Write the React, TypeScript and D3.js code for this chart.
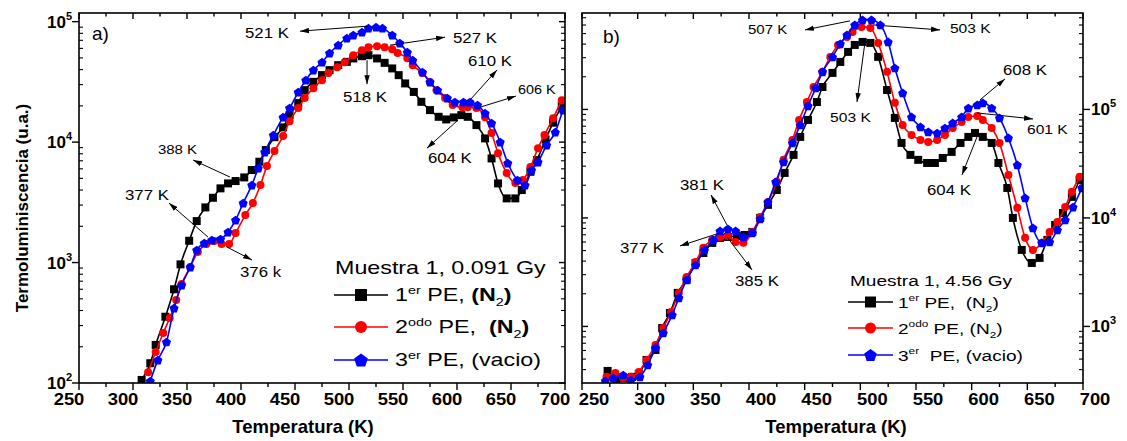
import React from 'react';
import * as d3 from 'd3';

const FONT = "'Liberation Sans', Arial, Helvetica, sans-serif";

// ---------- Panel a) : Muestra 1, 0.091 Gy ----------
const aT1 = [308,316,321,330,338,344,352,359,367,374,381,388,395,403,410,417,423,431,439,445,453,459,467,475,482,490,498,504,512,518,526,533,540,546,552,560,567,575,583,590,597,604,610,618,626,632,638,646,654,660,668,674,682,689,697];
const aV1 = [106,146,207,355,600,966,1517,2210,2870,3450,4130,4540,4750,5090,5860,6870,8590,10990,13250,16750,21080,27000,31650,35970,39600,43550,46400,49500,51700,52700,49500,45500,40900,35970,30700,26100,21600,18440,16220,15420,16030,16750,16220,13840,10730,7320,4540,3410,3410,4000,5670,7090,10500,14500,20000];

const aT2 = [314,321,328,334,340,345,353,360,368,375,382,389,395,404,411,418,424,431,439,445,453,459,467,475,481,489,496,504,512,518,526,533,540,545,554,559,568,575,581,589,596,605,610,618,626,632,638,646,654,661,668,675,681,689,697];
const aV2 = [123,181,260,346,488,663,918,1222,1425,1508,1425,1425,1757,2480,3119,4397,6320,8420,11220,14930,19150,23190,28060,32700,37400,41900,46100,52700,58000,61400,62600,61400,59100,54800,49800,43500,37400,31500,27000,23200,20300,19500,19500,19150,16120,11880,8100,5530,4570,4840,6200,8910,11430,15800,22300];

const aT3 = [316,323,331,338,345,353,359,366,373,381,388,395,402,410,416,422,430,439,445,453,460,467,475,482,490,498,504,512,518,525,531,540,547,554,559,568,575,582,591,598,606,612,619,626,632,640,647,656,663,669,675,683,691,698];
const aV3 = [104,155,219,419,650,918,1270,1452,1537,1567,1791,2253,3119,4397,6085,8260,11430,16120,19150,26000,32700,39600,46100,54800,63800,72900,77300,81800,88300,90000,88300,77300,66400,55800,47900,38100,31500,27000,23200,21500,21500,21500,20300,17400,14380,10000,6700,4840,4400,5860,6820,9440,12100,18440];

// ---------- Panel b) : Muestra 1, 4.56 Gy ----------
const bT1 = [273,281,288,295,301,308,316,322,329,336,344,352,359,367,374,381,389,396,403,410,417,425,432,440,446,453,461,466,475,482,489,495,502,509,516,524,531,537,545,552,560,567,574,582,590,597,603,610,618,624,632,637,645,654,661,668,675,682,690,697];
const bV1 = [389,321,335,343,365,491,607,968,1330,2038,2686,3846,4750,5890,6550,6680,6820,6960,7430,10000,13200,18100,26000,38100,55800,80000,117000,161000,217000,274000,339000,393000,419000,410000,305000,151000,83500,49100,38100,34300,32100,32100,35700,40600,49100,55800,60700,55800,49100,32100,18900,10000,5070,3846,4280,6270,8610,11110,15630,22400];

const bT2 = [272,280,287,294,301,308,316,323,330,337,344,352,359,367,374,381,388,395,403,410,417,425,431,439,445,452,458,466,473,480,488,493,501,509,516,524,531,538,546,554,561,569,576,583,591,597,605,610,618,625,633,641,648,655,663,670,677,684,690,697];
const bV2 = [343,372,335,343,381,491,675,968,1360,2038,2860,3930,5300,6270,6680,6820,6010,5890,7430,10200,14000,21500,34300,52400,80000,117000,161000,222000,305000,393000,466000,518000,576000,564000,410000,222000,115000,72000,58200,52400,50100,52400,58200,67500,76700,85300,87100,80000,67500,49100,24900,12400,6550,5070,5890,7430,9180,12600,17400,23900];

const bT3 = [271,278,287,294,302,309,316,323,331,337,344,352,360,368,374,381,388,395,403,410,417,424,431,439,446,453,460,466,475,482,488,495,502,510,518,525,531,538,546,554,561,569,576,583,591,597,605,610,618,625,633,641,648,655,663,670,677,684,691,699];
const bV3 = [315,335,357,321,343,442,634,871,1276,1833,2686,3690,5070,6270,7590,7920,7590,6680,7280,9790,14000,21500,32800,49100,72000,108000,158000,222000,305000,402000,486000,601000,668000,668000,601000,419000,241000,142000,85300,69000,62100,60700,67500,75100,85300,103000,110000,115000,103000,83500,54600,30800,15300,8090,5890,6010,7740,9590,12600,18900];

// ---------- axes ----------
const xTickValues = [250, 300, 350, 400, 450, 500, 550, 600, 650, 700];
const xMinorValues = [275, 325, 375, 425, 475, 525, 575, 625, 675];
const xTitle = 'Temperatura (K)';
const yTitle = 'Termoluminiscencia (u.a.)';

// ---------- annotations (T in K, e = log10 of intensity) ----------
type Ann = { label: string; tx: number; te: number; fs: number; x1: number; e1: number; x2: number; e2: number };
const aAnn: Ann[] = [
  { label: '521 K', tx: 403.7, te: 4.863, fs: 14, x1: 517.6, e1: 4.963, x2: 454.6, e2: 4.921 },
  { label: '527 K', tx: 596.3, te: 4.822, fs: 14, x1: 538, e1: 4.805, x2: 588.9, e2: 4.871 },
  { label: '518 K', tx: 494.4, te: 4.332, fs: 14, x1: 516.7, e1: 4.68, x2: 516.7, e2: 4.481 },
  { label: '610 K', tx: 610.2, te: 4.631, fs: 14, x1: 612, e1: 4.349, x2: 637, e2: 4.598 },
  { label: '606 K', tx: 656.5, te: 4.398, fs: 12, x1: 618.5, e1: 4.282, x2: 654.6, e2: 4.382 },
  { label: '604 K', tx: 573.1, te: 3.826, fs: 14, x1: 600.9, e1: 4.183, x2: 572.2, e2: 3.95 },
  { label: '388 K', tx: 323.1, te: 3.9, fs: 12.5, x1: 389.8, e1: 3.71, x2: 355.6, e2: 3.851 },
  { label: '377 K', tx: 292.6, te: 3.519, fs: 14, x1: 369.4, e1: 3.212, x2: 333.3, e2: 3.494 },
  { label: '376 k', tx: 399.1, te: 2.88, fs: 14, x1: 387, e1: 3.129, x2: 410.2, e2: 3.021 },
];
const bAnn: Ann[] = [
  { label: '507 K', tx: 399.1, te: 5.696, fs: 12.5, x1: 490.7, e1: 5.816, x2: 450.3, e2: 5.733 },
  { label: '503 K', tx: 580.5, te: 5.705, fs: 13, x1: 511.4, e1: 5.779, x2: 571.6, e2: 5.733 },
  { label: '503 K', tx: 472.8, te: 4.885, fs: 13, x1: 504.2, e1: 5.622, x2: 497, e2: 5.069 },
  { label: '608 K', tx: 628.1, te: 5.318, fs: 14, x1: 607.5, e1: 5.088, x2: 629.9, e2: 5.281 },
  { label: '601 K', tx: 649.7, te: 4.774, fs: 13, x1: 604.8, e1: 4.968, x2: 655.1, e2: 4.912 },
  { label: '604 K', tx: 559.9, te: 4.212, fs: 14, x1: 604.8, e1: 4.747, x2: 591.3, e2: 4.396 },
  { label: '381 K', tx: 338, te: 4.258, fs: 14, x1: 380.2, e1: 3.935, x2: 365.9, e2: 4.212 },
  { label: '377 K', tx: 284.1, te: 3.677, fs: 14, x1: 374, e1: 3.862, x2: 338, e2: 3.742 },
  { label: '385 K', tx: 387.4, te: 3.373, fs: 14, x1: 380.2, e1: 3.825, x2: 402.7, e2: 3.521 },
];

type Seg = { t: string; sup?: boolean; sub?: boolean; bold?: boolean };
const aLegendTitle = 'Muestra 1, 0.091 Gy';
const bLegendTitle = 'Muestra 1, 4.56 Gy';
const aLegend: Seg[][] = [
  [{ t: '1' }, { t: 'er', sup: true }, { t: ' PE, ' }, { t: '(N', bold: true }, { t: '2', sub: true }, { t: ')', bold: true }],
  [{ t: '2' }, { t: 'odo', sup: true }, { t: ' PE,  ' }, { t: '(N', bold: true }, { t: '2', sub: true }, { t: ')', bold: true }],
  [{ t: '3' }, { t: 'er', sup: true }, { t: ' PE, (vacio)' }],
];
const bLegend: Seg[][] = [
  [{ t: '1' }, { t: 'er', sup: true }, { t: ' PE,  (N' }, { t: '2', sub: true }, { t: ')' }],
  [{ t: '2' }, { t: 'odo', sup: true }, { t: ' PE, (N' }, { t: '2', sub: true }, { t: ')' }],
  [{ t: '3' }, { t: 'er', sup: true }, { t: '  PE, (vacio)' }],
];

const COLORS = ['#000000', '#ff0000', '#0000ff'];
const MARKERS = ['square', 'circle', 'pentagon'];

function markerPath(kind: string, s: number): string {
  if (kind === 'square') {
    const h = s / 2;
    return `M${-h},${-h}H${h}V${h}H${-h}Z`;
  }
  if (kind === 'circle') {
    const r = s / 2;
    return `M${r},0A${r},${r} 0 1,1 ${-r},0A${r},${r} 0 1,1 ${r},0Z`;
  }
  const r = s * 0.6;
  const pts = d3.range(5).map((k) => {
    const a = -Math.PI / 2 + (k * 2 * Math.PI) / 5;
    return [r * Math.cos(a), r * Math.sin(a) + r * 0.1];
  });
  return 'M' + pts.map((p) => p.join(',')).join('L') + 'Z';
}

function RichText({ x, y, segs, fs, sx }: { x: number; y: number; segs: Seg[]; fs: number; sx: number }) {
  let shift = 0;
  return (
    <text transform={`translate(${x},${y}) scale(${sx},1)`} fontSize={fs} fontFamily={FONT} style={{ whiteSpace: 'pre' }}>
      {segs.map((s, i) => {
        let target = 0;
        if (s.sup) target = -fs * 0.42;
        if (s.sub) target = fs * 0.28;
        const dy = target - shift;
        shift = target;
        return (
          <tspan key={i} dy={dy} fontSize={s.sup || s.sub ? fs * 0.62 : fs} fontWeight={s.bold ? 'bold' : 'normal'}>
            {s.t}
          </tspan>
        );
      })}
    </text>
  );
}

type PanelCfg = {
  id: string;
  left: number; right: number; top: number; bottom: number;
  yDomain: [number, number];
  labelSide: 'left' | 'right';
  xLabelDx: number;
  xTitleX: number;
  series: { T: number[]; V: number[] }[];
  ann: Ann[];
  tag: string; tagT: number; tagE: number;
  legendTitle: string; legend: Seg[][];
  leg: { tx: number; ty: number; tfs: number; rows: number[]; lx1: number; lx2: number; textX: number; fs: number; ms: number; sx: number };
};

function Panel({ c }: { c: PanelCfg }) {
  const x = d3.scaleLinear().domain([250, 700]).range([c.left, c.right]);
  const y = d3.scaleLog().domain(c.yDomain).range([c.bottom, c.top]);
  const majors: number[] = [];
  const minors: number[] = [];
  for (let d = 2; d <= 6; d++) {
    const b = Math.pow(10, d);
    if (b >= c.yDomain[0] * 0.999 && b <= c.yDomain[1]) majors.push(b);
    for (let k = 2; k <= 9; k++) {
      const v = k * b;
      if (v > c.yDomain[0] && v < c.yDomain[1]) minors.push(v);
    }
  }
  const line = d3
    .line<[number, number]>()
    .x((d) => x(d[0]))
    .y((d) => y(d[1]))
    .curve(d3.curveMonotoneX);
  const clipId = 'clip-' + c.id;
  const sw = 1.4;
  const annSx = 1.2;
  return (
    <g>
      <defs>
        <clipPath id={clipId}>
          <rect x={c.left} y={c.top} width={c.right - c.left} height={c.bottom - c.top} />
        </clipPath>
      </defs>
      {/* x ticks */}
      {xTickValues.map((t) => (
        <g key={'xt' + t}>
          <line x1={x(t)} x2={x(t)} y1={c.bottom} y2={c.bottom + 7} stroke="#000" strokeWidth={sw} />
          <line x1={x(t)} x2={x(t)} y1={c.top} y2={c.top + 6} stroke="#000" strokeWidth={sw} />
          <text
            transform={`translate(${x(t) + c.xLabelDx},405) scale(1.15,1)`}
            textAnchor="middle"
            fontSize={16}
            fontWeight="bold"
            fontFamily={FONT}
          >
            {t}
          </text>
        </g>
      ))}
      {xMinorValues.map((t) => (
        <g key={'xm' + t}>
          <line x1={x(t)} x2={x(t)} y1={c.bottom} y2={c.bottom + 4} stroke="#000" strokeWidth={sw} />
          <line x1={x(t)} x2={x(t)} y1={c.top} y2={c.top + 3.5} stroke="#000" strokeWidth={sw} />
        </g>
      ))}
      {/* y ticks */}
      {majors.map((v) => {
        const yy = y(v);
        const e = Math.round(Math.log10(v));
        const outer = c.labelSide === 'left' ? c.left : c.right;
        const inner = c.labelSide === 'left' ? c.right : c.left;
        const dir = c.labelSide === 'left' ? -1 : 1;
        return (
          <g key={'ym' + v}>
            <line x1={outer} x2={outer + dir * 7} y1={yy} y2={yy} stroke="#000" strokeWidth={sw} />
            <line x1={inner} x2={inner + dir * 6} y1={yy} y2={yy} stroke="#000" strokeWidth={sw} />
            <text
              x={c.labelSide === 'left' ? c.left - 7 : c.right + 8}
              y={yy + 6}
              textAnchor={c.labelSide === 'left' ? 'end' : 'start'}
              fontSize={17}
              fontWeight="bold"
              fontFamily={FONT}
            >
              <tspan>10</tspan>
              <tspan dy={-8} fontSize={11}>{e}</tspan>
            </text>
          </g>
        );
      })}
      {minors.map((v) => (
        <g key={'yn' + v}>
          <line x1={c.left} x2={c.left + 4} y1={y(v)} y2={y(v)} stroke="#000" strokeWidth={1.1} />
          <line x1={c.right} x2={c.right - 4} y1={y(v)} y2={y(v)} stroke="#000" strokeWidth={1.1} />
        </g>
      ))}
      {/* data */}
      <g clipPath={`url(#${clipId})`}>
        {c.series.map((s, i) => {
          const pts: [number, number][] = s.T.map((t, j) => [t, s.V[j]]);
          return (
            <g key={'s' + i}>
              <path d={line(pts) || ''} fill="none" stroke={COLORS[i]} strokeWidth={1.6} />
              {pts.map((p, j) => (
                <path key={j} d={markerPath(MARKERS[i], 8)} transform={`translate(${x(p[0])},${y(p[1])})`} fill={COLORS[i]} />
              ))}
            </g>
          );
        })}
      </g>
      {/* frame */}
      <rect x={c.left} y={c.top} width={c.right - c.left} height={c.bottom - c.top} fill="none" stroke="#000" strokeWidth={1.6} />
      {/* panel tag */}
      <text x={x(c.tagT)} y={y(Math.pow(10, c.tagE))} fontSize={19} fontFamily={FONT}>
        {c.tag}
      </text>
      {/* annotations */}
      {c.ann.map((a, i) => (
        <g key={'a' + i}>
          <line
            x1={x(a.x1)}
            y1={y(Math.pow(10, a.e1))}
            x2={x(a.x2)}
            y2={y(Math.pow(10, a.e2))}
            stroke="#000"
            strokeWidth={1}
            markerEnd="url(#arrowhead)"
          />
          <text
            transform={`translate(${x(a.tx)},${y(Math.pow(10, a.te))}) scale(${annSx},1)`}
            fontSize={a.fs}
            fontFamily={FONT}
          >
            {a.label}
          </text>
        </g>
      ))}
      {/* legend */}
      <text transform={`translate(${c.leg.tx},${c.leg.ty}) scale(${c.leg.sx},1)`} fontSize={c.leg.tfs} fontFamily={FONT}>
        {c.legendTitle}
      </text>
      {c.legend.map((segs, i) => {
        const ry = c.leg.rows[i];
        return (
          <g key={'l' + i}>
            <line x1={c.leg.lx1} x2={c.leg.lx2} y1={ry} y2={ry} stroke={COLORS[i]} strokeWidth={1.6} />
            <path d={markerPath(MARKERS[i], c.leg.ms)} transform={`translate(${(c.leg.lx1 + c.leg.lx2) / 2},${ry})`} fill={COLORS[i]} />
            <RichText x={c.leg.textX} y={ry + c.leg.fs * 0.36} segs={segs} fs={c.leg.fs} sx={c.leg.sx} />
          </g>
        );
      })}
      {/* x title */}
      <text x={c.xTitleX} y={433} textAnchor="middle" fontSize={18.5} fontWeight="bold" fontFamily={FONT}>
        {xTitle}
      </text>
    </g>
  );
}

export default function App() {
  const panelA: PanelCfg = {
    id: 'a',
    left: 79, right: 565, top: 13, bottom: 383,
    yDomain: [100, 1.18e5],
    labelSide: 'left',
    xLabelDx: -10,
    xTitleX: 303,
    series: [
      { T: aT1, V: aV1 },
      { T: aT2, V: aV2 },
      { T: aT3, V: aV3 },
    ],
    ann: aAnn,
    tag: 'a)', tagT: 262, tagE: 4.846,
    legendTitle: aLegendTitle,
    legend: aLegend,
    leg: { tx: 335, ty: 274, tfs: 17.5, rows: [295, 327, 360], lx1: 334, lx2: 388, textX: 395, fs: 17.5, ms: 12, sx: 1.33 },
  };
  const panelB: PanelCfg = {
    id: 'b',
    left: 582, right: 1083, top: 13, bottom: 383,
    yDomain: [301, 7.74e5],
    labelSide: 'right',
    xLabelDx: 12,
    xTitleX: 836,
    series: [
      { T: bT1, V: bV1 },
      { T: bT2, V: bV2 },
      { T: bT3, V: bV3 },
    ],
    ann: bAnn,
    tag: 'b)', tagT: 268.9, tagE: 5.613,
    legendTitle: bLegendTitle,
    legend: bLegend,
    leg: { tx: 850, ty: 286, tfs: 15.5, rows: [302, 328, 355], lx1: 848, lx2: 893, textX: 898, fs: 15.5, ms: 11, sx: 1.23 },
  };
  return (
    <svg width={1127} height={441} style={{ position: 'absolute', left: 0, top: 0, background: '#fff' }}>
      <defs>
        <marker id="arrowhead" viewBox="0 0 10 6" refX={10} refY={3} markerWidth={9} markerHeight={6} markerUnits="userSpaceOnUse" orient="auto">
          <path d="M0,0L10,3L0,6Z" fill="#000" />
        </marker>
      </defs>
      <rect width={1127} height={441} fill="#fff" />
      <Panel c={panelA} />
      <Panel c={panelB} />
      <text transform="translate(28,208) rotate(-90)" textAnchor="middle" fontSize={17} fontWeight="bold" fontFamily={FONT}>
        {yTitle}
      </text>
    </svg>
  );
}
